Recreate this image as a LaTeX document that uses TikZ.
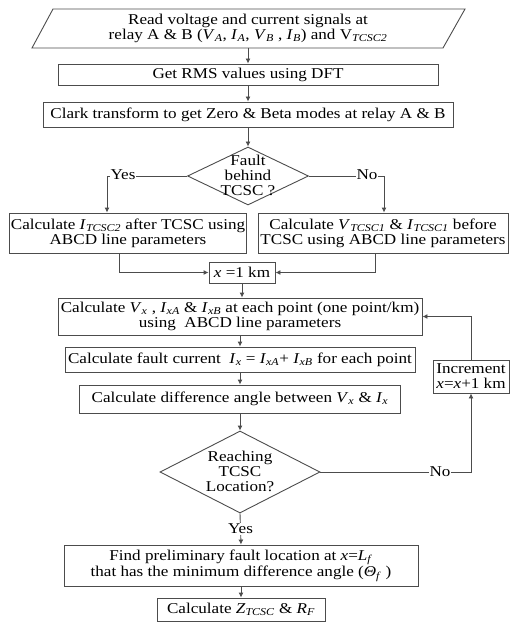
\documentclass[tikz,border=0pt]{standalone}
\usepackage{fontspec}
\setmainfont{Liberation Serif}[FakeStretch=1.14]
\usetikzlibrary{shapes.geometric,arrows.meta,calc}
\newcommand{\sv}[2]{\textit{#1}\textsubscript{\textit{#2}}}
\begin{document}
\begin{tikzpicture}[x=1pt,y=-1pt,
  line/.style={draw=black!70, line width=0.9pt},
  arr/.style={line, -{Latex[length=5pt,width=5pt]}},
  box/.style={draw=black!70, line width=0.9pt, rectangle, inner sep=1pt, align=center, font=\fontsize{15}{15}\selectfont},
  dia/.style={draw=black!70, line width=0.9pt, diamond, inner sep=0pt},
  txt/.style={align=center, font=\fontsize{15}{15}\selectfont, inner sep=0pt},
  lbl/.style={fill=white, inner sep=1pt, font=\fontsize{15}{15}\selectfont}]
\useasboundingbox (0,0) rectangle (510,623);

% input parallelogram
\node[txt, minimum width=412pt, minimum height=39pt] (read) at (248,28.5)
  {Read voltage and current signals at\\relay A \& B (\sv{V}{A}, \sv{I}{A}, \sv{V}{B} , \sv{I}{B}) and V\textsubscript{\textit{TCSC2}}};
\draw[line] (53,9) -- (465,9) -- (443,48) -- (32,48) -- cycle;

\node[box, minimum width=380pt, minimum height=21pt] (rms) at (248,74.5) {Get RMS values using DFT};
\node[box, minimum width=410pt, minimum height=25pt] (clark) at (248,114.5) {Clark transform to get Zero \& Beta modes at relay A \& B};

\node[dia, minimum width=121pt, minimum height=58pt] (d1) at (248,176) {};
\node[txt] (d1t) at (248,175) {Fault\\behind\\TCSC ?};

\node[box, minimum width=236pt, minimum height=40pt] (lbox) at (128,233)
  {Calculate \sv{I}{TCSC2} after TCSC using\\ABCD line parameters};
\node[box, minimum width=250pt, minimum height=40pt] (rbox) at (383,233)
  {Calculate \sv{V}{TCSC1} \& \sv{I}{TCSC1} before\\TCSC using ABCD line parameters};

\node[box, minimum width=66pt, minimum height=21pt] (x1) at (242,272.5) {\textit{x} =1 km};

\node[box, minimum width=364pt, minimum height=37pt] (box4) at (240,316.5)
  {Calculate \sv{V}{x} , \sv{I}{xA} \& \sv{I}{xB} at each point (one point/km)\\using \ ABCD line parameters};
\node[box, minimum width=350pt, minimum height=25pt] (box5) at (240,359.5)
  {Calculate fault current \ \sv{I}{x} = \sv{I}{xA}+ \sv{I}{xB} for each point};
\node[box, minimum width=321pt, minimum height=28pt] (box6) at (240,399)
  {Calculate difference angle between \sv{V}{x} \& \sv{I}{x}};

\node[dia, minimum width=160pt, minimum height=82pt] (d2) at (240,472) {};
\node[txt] (d2t) at (240,471) {Reaching\\TCSC\\Location?};

\node[box, minimum width=76pt, minimum height=33pt] (inc) at (471,376.5) {Increment\\\textit{x}=\textit{x}+1 km};

\node[box, minimum width=354pt, minimum height=41pt] (find) at (241,565.5)
  {Find preliminary fault location at \textit{x}=\sv{L}{f}\\that has the minimum difference angle (\sv{Θ}{f} )};
\node[box, minimum width=168pt, minimum height=23pt] (last) at (241,609.5)
  {Calculate \sv{Z}{TCSC} \& \sv{R}{F}};

% connectors
\draw[arr] (read.south) -- (rms.north);
\draw[arr] (rms) -- (clark);
\draw[arr] (clark) -- (d1);
\draw[arr] (d1.west) -| ($(lbox.north)+(-21,0)$);
\node[lbl] (yes1) at (123,175) {Yes};
\draw[arr] (d1.east) -| ($(rbox.north)+(1,0)$);
\node[lbl] (no1) at (367,175) {No};
\draw[arr] ($(lbox.south)+(-9,0)$) |- (x1.west);
\draw[arr] ($(rbox.south)+(-8,0)$) |- (x1.east);
\draw[arr] (x1.south) -- (x1.south |- box4.north);
\draw[arr] (box4) -- (box5);
\draw[arr] (box5) -- (box6);
\draw[arr] (box6) -- (d2);
\draw[arr] (d2.east) -| (inc.south);
\node[lbl] (no2) at (440,472) {No};
\draw[arr] (inc.north) |- (box4.east);
\draw[arr] (d2.south) -- node[lbl] (yes2) {Yes} (find.north);
\draw[arr] (find) -- (last);
\end{tikzpicture}
\end{document}
